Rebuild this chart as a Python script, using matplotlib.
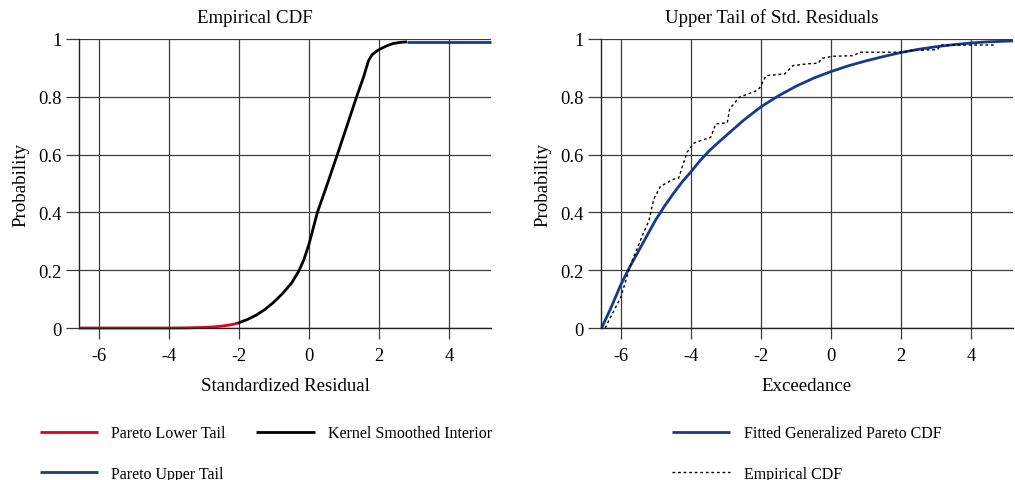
import matplotlib
matplotlib.use("Agg")
import matplotlib.pyplot as plt

plt.rcParams['font.family'] = ['Liberation Serif', 'DejaVu Serif']
plt.rcParams['axes.unicode_minus'] = False

# ---- piecewise CDF of the standardized residuals ----
lower_x = [-6.57, -5.0, -4.0, -3.5, -3.0, -2.7, -2.4, -2.2, -2.05]
lower_y = [0.0, 0.0, 0.0, 0.0005, 0.002, 0.004, 0.008, 0.012, 0.016]

interior_x = [-2.05, -1.75, -1.5, -1.25, -1.0, -0.75, -0.5, -0.3, -0.15, 0.0,
              0.12, 0.24, 0.5, 0.81, 1.1, 1.36, 1.55, 1.7, 1.8, 1.9, 2.0,
              2.2, 2.4, 2.6, 2.8]
interior_y = [0.016, 0.03, 0.045, 0.065, 0.09, 0.12, 0.155, 0.195, 0.235, 0.29,
              0.345, 0.40, 0.49, 0.60, 0.705, 0.80, 0.865, 0.925, 0.945, 0.955,
              0.963, 0.975, 0.984, 0.988, 0.99]

upper_x = [2.8, 3.5, 4.5, 5.2]
upper_y = [0.99, 0.99, 0.99, 0.99]

# ---- upper tail: fitted GPD vs empirical ----
gpd_x = [-6.55, -6.3, -6.0, -5.75, -5.5, -5.25, -5.0, -4.75, -4.5, -4.25,
         -4.0, -3.75, -3.5, -3.25, -3.0, -2.5, -2.0, -1.5, -1.0, -0.5, 0.0,
         0.5, 1.0, 1.5, 2.0, 2.5, 3.0, 3.5, 4.0, 4.5, 5.2]
gpd_y = [0.0, 0.065, 0.15, 0.21, 0.265, 0.32, 0.375, 0.422, 0.465, 0.505,
         0.54, 0.577, 0.61, 0.638, 0.665, 0.718, 0.765, 0.803, 0.836, 0.864,
         0.887, 0.907, 0.924, 0.939, 0.953, 0.964, 0.973, 0.98, 0.986, 0.99,
         0.993]

ecdf_x = [-6.45, -6.0, -5.73, -5.35, -5.2, -5.06, -4.87, -4.49, -4.35, -4.11,
          -3.91, -3.43, -3.29, -2.96, -2.89, -2.62, -2.14, -2.04, -1.85, -1.32,
          -1.08, -0.65, -0.36, -0.26, 0.06, 0.64, 0.83, 2.08, 2.27, 3.04,
          3.14, 4.72]
ecdf_y = [0.0, 0.107, 0.216, 0.33, 0.37, 0.446, 0.49, 0.515, 0.518, 0.608,
          0.64, 0.66, 0.706, 0.71, 0.758, 0.798, 0.82, 0.83, 0.873, 0.879,
          0.908, 0.914, 0.916, 0.933, 0.94, 0.942, 0.954, 0.954, 0.96, 0.963,
          0.979, 0.979]

xticks = [-6, -4, -2, 0, 2, 4]
xtick_labels = ['-6', '-4', '-2', '0', '2', '4']
yticks = [0, 0.2, 0.4, 0.6, 0.8, 1]
ytick_labels = ['0', '0.2', '0.4', '0.6', '0.8', '1']

RED = '#e3001b'
BLUE = '#173a8c'
GRID = '#3c3c3c'

fig = plt.figure(figsize=(10.15, 4.81), dpi=100)
ax1 = fig.add_axes([0.0778, 0.316, 0.406, 0.601])
ax2 = fig.add_axes([0.592, 0.316, 0.406, 0.601])


def style_axes(ax, title, title_x, xlabel):
    ax.set_xlim(-6.57, 5.2)
    ax.set_ylim(0, 1)
    ax.set_xticks(xticks)
    ax.set_xticklabels(xtick_labels)
    ax.set_yticks(yticks)
    ax.set_yticklabels(ytick_labels)
    ax.grid(True, color=GRID, linewidth=0.9)
    ax.set_axisbelow(True)
    for side in ['top', 'right']:
        ax.spines[side].set_visible(False)
    for side in ['left', 'bottom']:
        ax.spines[side].set_color('#222222')
        ax.spines[side].set_linewidth(1.0)
    ax.tick_params(axis='y', length=9.5, width=0.9, color=GRID,
                   labelsize=13.3, pad=3)
    ax.tick_params(axis='x', length=8, width=0.9, color=GRID,
                   labelsize=13.3, pad=6)
    ax.set_title(title, x=title_x, fontsize=13.6, pad=12)
    ax.set_xlabel(xlabel, fontsize=13.6, labelpad=9)
    ax.set_ylabel('Probability', fontsize=13.6, labelpad=6)


style_axes(ax1, 'Empirical CDF', 0.426, 'Standardized Residual')
style_axes(ax2, 'Upper Tail of Std. Residuals', 0.415, 'Exceedance')

line_kw = dict(lw=2.0, clip_on=False, solid_capstyle='butt')
h_low, = ax1.plot(lower_x, lower_y, color=RED,
                  label='Pareto Lower Tail', **line_kw)
h_mid, = ax1.plot(interior_x, interior_y, color='black',
                  label='Kernel Smoothed Interior', **line_kw)
h_up, = ax1.plot(upper_x, upper_y, color=BLUE,
                 label='Pareto Upper Tail', **line_kw)

h_gpd, = ax2.plot(gpd_x, gpd_y, color=BLUE,
                  label='Fitted Generalized Pareto CDF', **line_kw)
h_emp, = ax2.plot(ecdf_x, ecdf_y, color='black', lw=1.0,
                  linestyle=(0, (2, 2)), clip_on=False,
                  label='Empirical CDF')

leg_kw = dict(frameon=False, fontsize=11.5, handlelength=3.65,
              handletextpad=0.85, labelspacing=1.55, columnspacing=1.9,
              borderaxespad=0, borderpad=0)
fig.legend(handles=[h_low, h_up, h_mid], ncol=2, loc='upper left',
           bbox_to_anchor=(0.039, 0.114), **leg_kw)
fig.legend(handles=[h_gpd, h_emp], ncol=1, loc='upper left',
           bbox_to_anchor=(0.662, 0.114), **leg_kw)

plt.savefig('out.png', dpi=100)
